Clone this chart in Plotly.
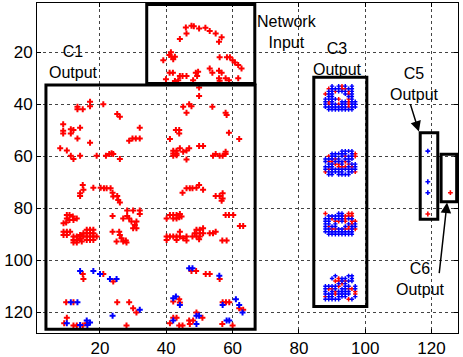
import plotly.graph_objects as go

# ---------------- data (x, y in image/neuron coordinates) ----------------
input_red_x = [44.1, 46.1, 45.9, 47.6, 48.3, 49.9, 51.8, 53.1, 54.9, 56.7, 55.9,
               41.4, 40.9, 41.6, 42.6, 42.1, 39.1,
               56.1, 58.3, 59.2, 60.0, 60.7, 61.7, 62.7,
               41.0, 42.0, 39.9, 42.6, 43.6, 44.1, 44.9, 46.1, 48.1, 48.9, 49.6, 49.3,
               53.1, 53.9, 55.9, 56.7, 55.9, 56.1, 57.9, 58.9, 61.7]
input_red_y = [14.9, 12.7, 10.4, 9.8, 9.9, 10.8, 10.5, 11.8, 12.7, 14.2, 15.9,
               20.0, 21.0, 21.7, 21.7, 22.6, 23.0,
               21.9, 21.9, 21.9, 23.0, 23.9, 24.9, 26.2,
               27.8, 27.8, 30.3, 31.0, 30.7, 29.1, 29.1, 29.1, 30.7, 27.8, 27.5, 29.1,
               26.2, 27.8, 27.1, 27.8, 30.0, 30.9, 30.0, 30.7, 30.0]

c1_red_x = [49.9, 49.9,
            17.0, 17.0, 13.2, 13.2, 14.8, 21.0, 25.2, 26.0,
            8.9, 8.9, 8.9, 11.2, 11.2, 12.0, 14.0, 13.2, 17.0,
            8.0, 10.0, 11.2, 12.0, 14.0, 19.0, 21.8, 22.8, 23.5, 24.0, 26.0,
            28.8, 29.8, 30.8, 32.0, 32.0,
            14.8, 15.0, 14.0, 14.0, 18.0, 20.2, 21.2, 22.0, 23.2, 23.8, 24.0, 25.2, 25.5, 26.0,
            45.1, 46.9, 47.6, 46.1, 53.9, 57.9, 58.2,
            42.9, 43.9, 43.9, 41.1, 58.9, 62.0,
            42.1, 43.1, 42.1, 43.1, 42.1, 43.1, 44.1, 45.1, 46.1, 46.9, 46.1, 49.9, 51.1,
            54.1, 54.9, 56.1, 57.0, 57.9, 57.9,
            44.9, 46.1, 47.1, 47.9, 49.1, 49.9, 51.1, 54.9, 56.1, 57.0, 57.0, 56.7,
            # lower-upper clusters
            10.0, 10.8, 11.8, 10.0, 10.8, 12.0, 13.0, 9.8, 9.0,
            23.8, 28.2, 30.0, 32.0, 32.0, 28.2, 27.0, 28.8, 29.5, 31.0, 30.5, 31.0, 30.0,
            9.0, 10.0, 11.0, 9.0, 10.0, 12.0, 13.0, 12.0, 13.0, 12.0, 13.0, 14.0, 15.0,
            14.0, 15.0, 16.0, 17.0, 18.0, 16.0, 17.0, 18.0, 16.0, 17.0, 18.0, 16.0, 17.0,
            18.0, 19.0, 14.5,
            23.8, 25.8, 26.0, 26.5, 27.8, 25.0, 27.0, 28.0,
            40.1, 41.1, 42.1, 43.1, 44.1, 44.6, 42.1, 43.1, 43.9,
            40.1, 40.1, 41.1, 42.1, 43.1, 43.1, 44.1, 44.1, 45.1, 46.1, 46.1, 47.9, 48.6,
            49.1, 49.1, 50.1, 51.1, 50.1, 51.1, 50.1, 49.9, 53.1, 54.1, 54.9, 56.9, 58.2,
            57.9, 58.9, 60.2, 62.2, 63.2,
            # bottom rows (red)
            14.8, 15.0, 21.0, 24.0, 9.8, 12.0, 25.2, 28.8, 30.0, 31.0, 10.0, 9.2, 12.0,
            13.0, 14.8, 16.0, 28.0, 47.6, 49.0, 51.9, 53.1, 56.1, 42.1, 43.9, 44.1, 57.0,
            58.0, 59.0, 62.0, 63.2, 42.1, 43.1, 41.1, 43.9, 44.9, 46.9, 47.1, 48.1, 49.1,
            50.9, 56.9, 60.0]
c1_red_y = [33.5, 36.8,
            39.0, 40.7, 40.9, 41.9, 41.9, 40.0, 43.7, 44.8,
            47.7, 50.2, 51.2, 49.6, 51.2, 49.9, 49.0, 53.1, 54.8,
            56.9, 57.8, 59.8, 61.0, 59.8, 59.8, 59.8, 59.1, 58.8, 59.1, 61.0,
            54.0, 53.1, 53.1, 53.1, 49.0,
            71.0, 72.9, 74.2, 75.3, 72.1, 72.1, 72.3, 72.3, 72.3, 74.0, 75.5, 75.3, 76.8, 77.8,
            40.9, 40.0, 40.7, 43.2, 40.9, 43.2, 44.1,
            49.9, 49.9, 51.2, 53.3, 50.9, 53.3,
            57.9, 57.9, 58.9, 58.9, 59.8, 59.6, 56.9, 58.2, 57.8, 56.9, 61.2, 56.0, 56.0,
            59.8, 59.1, 59.8, 59.8, 58.2, 59.1,
            74.0, 72.3, 72.3, 72.3, 72.1, 71.0, 72.9, 75.3, 75.3, 74.2, 76.2, 77.1,
            82.6, 82.6, 83.2, 83.9, 84.5, 84.5, 83.9, 85.5, 85.8,
            83.0, 80.9, 80.9, 80.9, 82.2, 83.0, 83.9, 83.9, 85.1, 85.1, 86.4, 87.7, 87.7,
            89.0, 89.0, 89.0, 90.3, 90.3, 90.9, 90.9, 92.2, 92.2, 93.2, 93.2, 90.3, 89.6,
            91.5, 90.9, 88.3, 88.3, 88.3, 89.6, 89.6, 89.6, 90.9, 90.9, 90.9, 92.2, 92.2,
            92.2, 90.9, 92.8,
            89.0, 89.0, 90.3, 91.5, 92.4, 92.8, 92.8, 93.2,
            83.9, 82.6, 82.6, 82.6, 82.2, 83.2, 83.9, 83.9, 83.5,
            90.9, 92.2, 90.9, 90.9, 90.9, 92.2, 89.0, 90.9, 91.5, 90.9, 92.4, 90.9, 89.6,
            90.9, 88.3, 88.3, 87.7, 89.6, 89.6, 90.9, 91.9, 89.6, 89.6, 89.0, 92.4, 92.4,
            82.6, 82.6, 82.6, 86.8, 86.8,
            105.3, 107.2, 105.3, 108.2, 116.2, 116.2, 116.2, 116.2, 118.5, 120.1, 122.1, 124.2, 125.1,
            125.1, 125.1, 124.2, 125.1, 104.1, 104.1, 105.3, 105.3, 107.2, 115.9, 115.0, 116.3, 116.2,
            116.2, 116.2, 118.5, 119.1, 122.1, 122.1, 124.2, 125.1, 125.1, 123.2, 124.5, 123.2, 120.1,
            122.1, 124.5, 125.1]

c1_blue_x = [14.0, 18.0, 20.0, 23.0, 25.0, 11.2, 13.2, 23.8, 32.0, 10.0, 14.0, 16.0,
             16.2, 17.0, 46.9, 47.9, 56.0, 42.1, 42.9, 44.1, 57.0, 61.0, 62.0, 63.0,
             42.1, 49.1, 49.9, 49.1, 58.2, 59.0]
c1_blue_y = [104.1, 104.1, 105.3, 107.2, 107.2, 116.2, 116.2, 121.4, 119.1, 124.2, 124.9, 123.2,
             124.9, 124.0, 103.1, 103.1, 106.0, 114.6, 114.0, 117.2, 117.2, 115.0, 117.2, 120.1,
             123.2, 121.4, 121.4, 124.5, 123.2, 123.2]

# C3 output: four 10x10 maps (R = red, B = blue, . = silent), columns from x=88
c3_col0 = 88
c3_row0 = [33, 58, 82, 106]
c3_maps = [
    ["..B.BRB.B.",
     ".RBBBRRBB.",
     ".BBRBBBRB.",
     "RBB...BRB.",
     ".BB....BB.",
     "BBBBR..RB.",
     "BRB..BBRBB",
     "BRBBRBBRBB",
     "BBBBBBBRBB",
     ".BBBBBBBB."],
    [".....BBBB.",
     "..BBBBB.BR",
     ".RBB.BRBBR",
     "BBBRB.BBB.",
     "BRRBBBRB..",
     ".BBRRB.RBB",
     "BBB.RRRBRB",
     "BRBBBBBBBB",
     "RBBBBB.BBR",
     ".BB.BBBB.."],
    ["R...BB.RR.",
     ".BBBBBRRR.",
     "BBRBBBRBB.",
     "BB.RRBR.RR",
     "BB.B...BRB",
     "BRBB..BRBB",
     "BBRRBBRRBR",
     "BBBBBBBBB.",
     ".BBBBBBBB.",
     ".........."],
    ["...B...BB.",
     "..B.RBB.B.",
     "...RRBRBB.",
     "....BRB...",
     "BBBBR.BB.B",
     "BRRB.BBRRB",
     "B.BRBBBB.R",
     "BBBRBBBB.R",
     "RBB.BBB..B",
     "BBBBB..RB."],
]

c5_blue_x = [118.9, 118.9, 118.9]
c5_blue_y = [58.0, 69.8, 74.0]
c5_red_x = [118.9]
c5_red_y = [82.2]
c6_red_x = [125.7]
c6_red_y = [74.0]

tick_vals = [20, 40, 60, 80, 100, 120]

# boxes: (x0, x1, y0, y1)
boxes = [(34.1, 66.7, 1.6, 32.0),
         (3.7, 66.8, 32.6, 126.6),
         (84.5, 100.5, 29.6, 117.8),
         (116.6, 121.9, 50.9, 84.2),
         (122.9, 127.6, 59.2, 77.5)]

labels = [("Network<br>Input", 76.5, 12.0),
          ("C1<br>Output", 12.0, 23.7),
          ("C3<br>Output", 91.7, 22.4),
          ("C5<br>Output", 115.0, 32.2),
          ("C6<br>Output", 116.8, 107.1)]

# ---------------- build C3 coordinates ----------------
c3_rx, c3_ry, c3_bx, c3_by = [], [], [], []
for m, r0 in zip(c3_maps, c3_row0):
    for r, row in enumerate(m):
        for c, ch in enumerate(row):
            if ch == "R":
                c3_rx.append(c3_col0 + c); c3_ry.append(r0 + r)
            elif ch == "B":
                c3_bx.append(c3_col0 + c); c3_by.append(r0 + r)

RED = "#ff0000"
BLUE = "#0000ff"
FONT = "Liberation Sans, Arial, sans-serif"

fig = go.Figure()

def add(xs, ys, color, size):
    fig.add_trace(go.Scatter(x=xs, y=ys, mode="markers",
                             marker=dict(symbol="cross", size=size, color=color,
                                         line=dict(width=0)),
                             showlegend=False, hoverinfo="skip", cliponaxis=False))

add(input_red_x, input_red_y, RED, 5)
add(c1_red_x, c1_red_y, RED, 5)
add(c1_blue_x, c1_blue_y, BLUE, 5)
add(c3_rx, c3_ry, RED, 3.6)
add(c3_bx, c3_by, BLUE, 3.6)
add(c5_blue_x, c5_blue_y, BLUE, 4)
add(c5_red_x, c5_red_y, RED, 4)
add(c6_red_x, c6_red_y, RED, 4)

for (x0, x1, y0, y1) in boxes:
    fig.add_shape(type="rect", x0=x0, x1=x1, y0=y0, y1=y1, xref="x", yref="y",
                  line=dict(color="black", width=3), fillcolor="rgba(0,0,0,0)",
                  layer="above")

for txt, x, y in labels:
    fig.add_annotation(x=x, y=y, text=txt, showarrow=False,
                       font=dict(family=FONT, size=16, color="black"),
                       xanchor="center", yanchor="middle")

# arrows (tip in data coordinates, tail offset in pixels)
fig.add_annotation(x=116.2, y=50.5, ax=-9, ay=-29, text="", showarrow=True,
                   arrowhead=2, arrowsize=1.4, arrowwidth=1.5, arrowcolor="black",
                   standoff=0)
fig.add_annotation(x=124.7, y=77.8, ax=-8, ay=72, text="", showarrow=True,
                   arrowhead=2, arrowsize=1.4, arrowwidth=1.5, arrowcolor="black",
                   standoff=0)

axis_common = dict(showgrid=True, gridcolor="#444444", griddash="dot", gridwidth=1,
                   zeroline=False, showline=True, linecolor="black", linewidth=1,
                   mirror="ticks", ticks="inside", ticklen=4, tickcolor="black",
                   tickvals=tick_vals, automargin=False,
                   tickfont=dict(family=FONT, size=17, color="black"))

fig.update_xaxes(range=[1, 128], **axis_common)
fig.update_yaxes(range=[128, 1], **axis_common)

fig.update_layout(width=463, height=357,
                  margin=dict(l=37, r=5, t=3, b=24),
                  plot_bgcolor="white", paper_bgcolor="white")

fig.write_html("out.html", config={"displayModeBar": False},
               post_script="document.body.style.margin='0';document.body.style.overflow='hidden';")
